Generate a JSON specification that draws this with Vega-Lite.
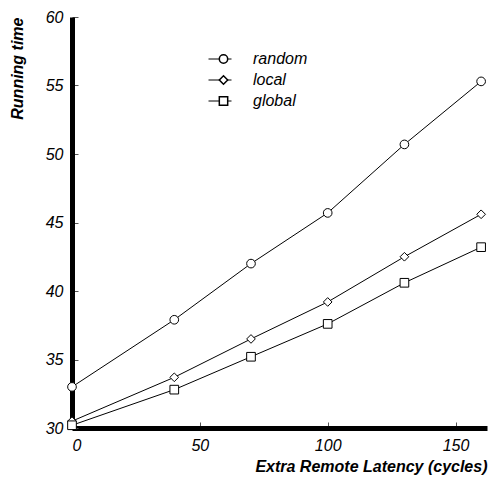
{
  "$schema": "https://vega.github.io/schema/vega-lite/v6.json",
  "width": 415,
  "height": 411,
  "autosize": {"type": "none"},
  "padding": {"left": 72, "top": 17, "right": 4, "bottom": 49},
  "background": "white",
  "config": {
    "view": {"stroke": null},
    "font": "Liberation Sans",
    "axis": {
      "grid": false,
      "domainColor": "black",
      "domainWidth": 5,
      "tickColor": "#555",
      "tickWidth": 1,
      "tickSize": -6,
      "labelFont": "Liberation Sans",
      "labelFontStyle": "italic",
      "labelFontSize": 16,
      "labelColor": "black",
      "titleFont": "Liberation Sans",
      "titleFontStyle": "italic",
      "titleFontWeight": "bold",
      "titleFontSize": 16,
      "titleColor": "black"
    },
    "legend": {
      "orient": "none",
      "title": null,
      "labelFont": "Liberation Sans",
      "labelFontStyle": "italic",
      "labelFontSize": 16,
      "rowPadding": 5,
      "clipHeight": 16,
      "padding": 0
    }
  },
  "data": {
    "values": [
      {"latency": 0, "time": 33.0, "policy": "random"},
      {"latency": 40, "time": 37.9, "policy": "random"},
      {"latency": 70, "time": 42.0, "policy": "random"},
      {"latency": 100, "time": 45.7, "policy": "random"},
      {"latency": 130, "time": 50.7, "policy": "random"},
      {"latency": 160, "time": 55.3, "policy": "random"},
      {"latency": 0, "time": 30.5, "policy": "local"},
      {"latency": 40, "time": 33.7, "policy": "local"},
      {"latency": 70, "time": 36.5, "policy": "local"},
      {"latency": 100, "time": 39.2, "policy": "local"},
      {"latency": 130, "time": 42.5, "policy": "local"},
      {"latency": 160, "time": 45.6, "policy": "local"},
      {"latency": 0, "time": 30.2, "policy": "global"},
      {"latency": 40, "time": 32.8, "policy": "global"},
      {"latency": 70, "time": 35.2, "policy": "global"},
      {"latency": 100, "time": 37.6, "policy": "global"},
      {"latency": 130, "time": 40.6, "policy": "global"},
      {"latency": 160, "time": 43.2, "policy": "global"}
    ]
  },
  "encoding": {
    "x": {
      "field": "latency", "type": "quantitative",
      "scale": {"domain": [0, 162.3], "nice": false, "zero": false},
      "axis": {"values": [0, 50, 100, 150], "title": "Extra Remote Latency (cycles)", "titleAnchor": "end", "titlePadding": 5, "labelPadding": 15}
    },
    "y": {
      "field": "time", "type": "quantitative",
      "scale": {"domain": [30, 60], "nice": false, "zero": false},
      "axis": {"values": [30, 35, 40, 45, 50, 55, 60], "title": "Running time", "titleAnchor": "end", "titlePadding": 20, "labelPadding": 15}
    }
  },
  "layer": [
    {
      "mark": {"type": "line", "strokeWidth": 1},
      "encoding": {
        "color": {
          "field": "policy", "type": "nominal",
          "scale": {"domain": ["random", "local", "global"], "range": ["black", "black", "black"]},
          "legend": {
            "legendX": 136,
            "legendY": 34,
            "zindex": 0,
            "symbolType": "stroke",
            "symbolSize": 529,
            "symbolStrokeWidth": 1,
            "labelColor": "black",
            "labelOffset": 21
          }
        }
      }
    },
    {
      "mark": {"type": "point", "filled": true, "fill": "white", "stroke": "black", "strokeWidth": 1, "size": 75, "opacity": 1},
      "encoding": {
        "shape": {
          "field": "policy", "type": "nominal",
          "sort": ["random", "local", "global"],
          "scale": {"range": ["circle", "diamond", "square"]},
          "legend": {
            "legendX": 143.5,
            "legendY": 34,
            "zindex": 1,
            "symbolSize": 70,
            "labelColor": "transparent",
            "labelOffset": 21
          }
        }
      }
    }
  ]
}
